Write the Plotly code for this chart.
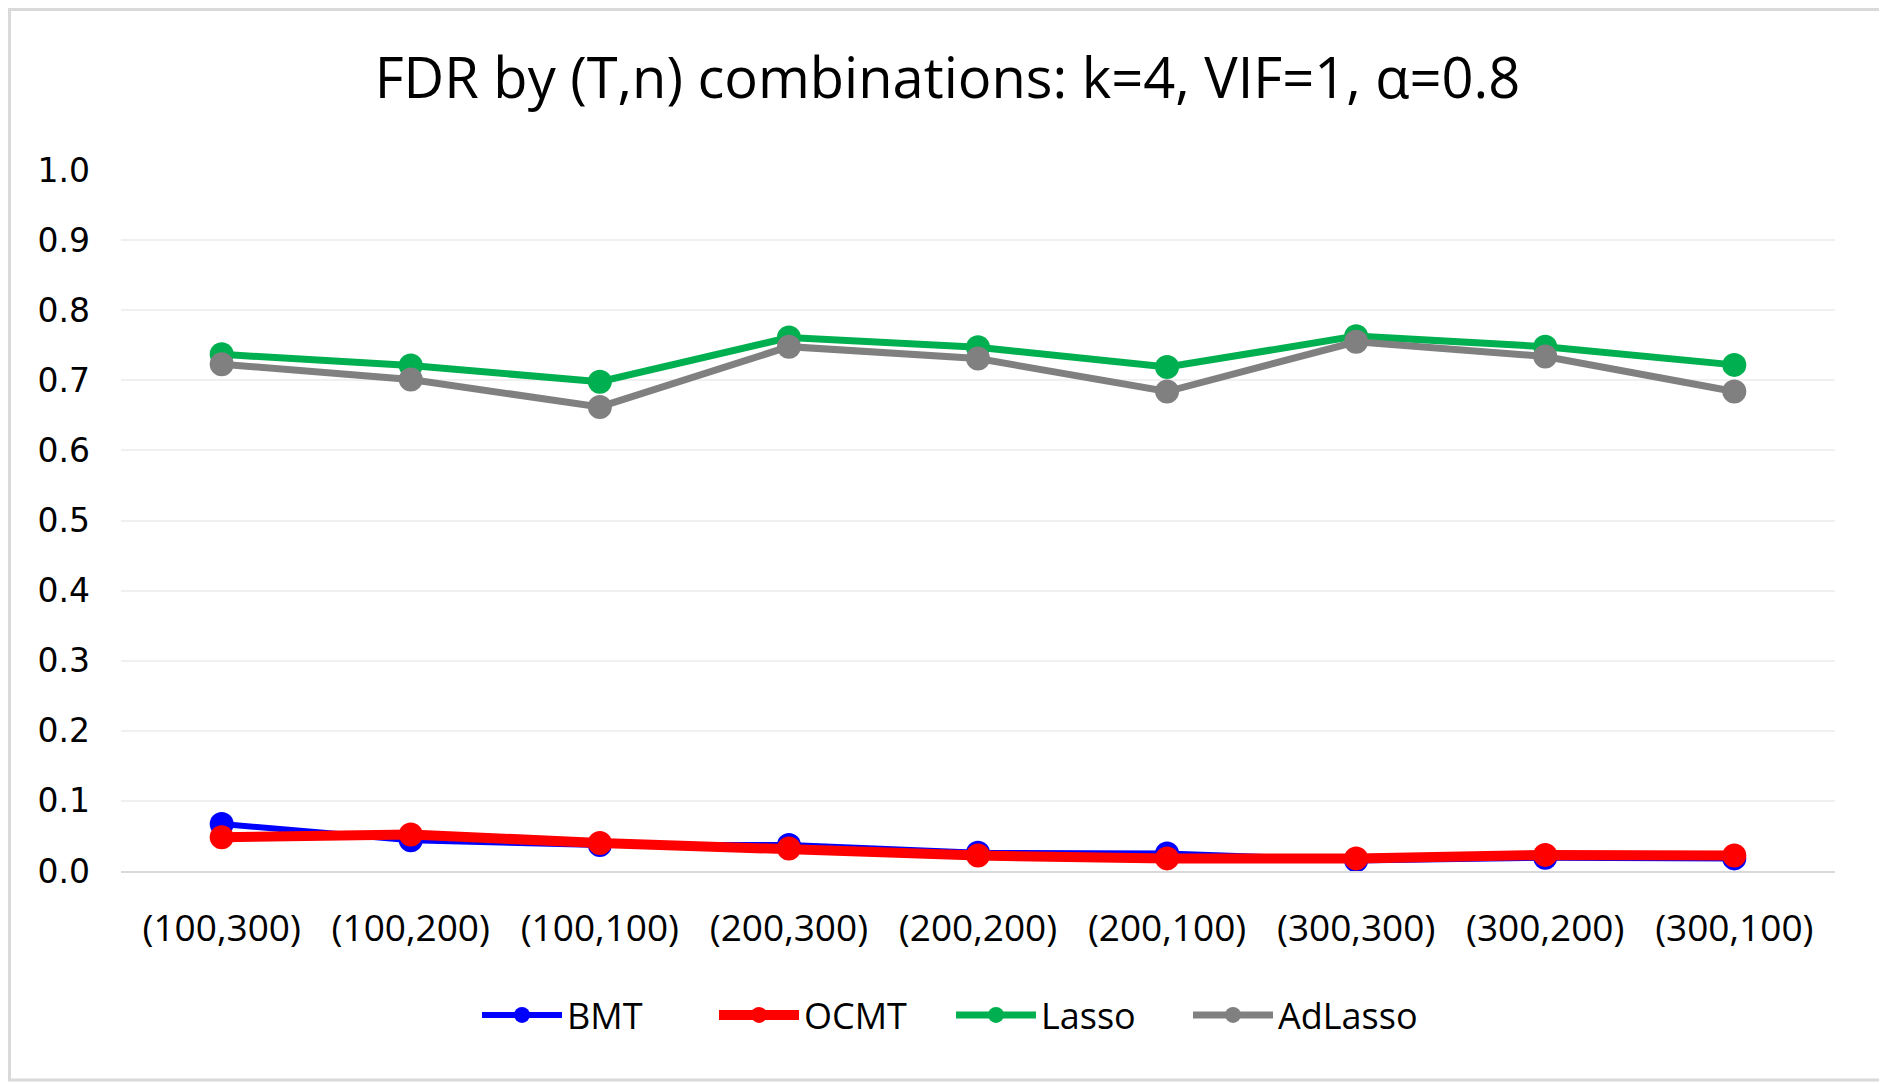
import plotly.graph_objects as go

categories = ["(100,300)", "(100,200)", "(100,100)", "(200,300)", "(200,200)",
              "(200,100)", "(300,300)", "(300,200)", "(300,100)"]
bmt = [0.067, 0.044, 0.037, 0.037, 0.026, 0.025, 0.015, 0.019, 0.018]
ocmt = [0.048, 0.052, 0.040, 0.032, 0.022, 0.018, 0.018, 0.023, 0.022]
lasso = [0.737, 0.721, 0.698, 0.761, 0.747, 0.719, 0.763, 0.748, 0.722]
adlasso = [0.723, 0.701, 0.662, 0.748, 0.731, 0.684, 0.755, 0.734, 0.684]
yticks = [0.0, 0.1, 0.2, 0.3, 0.4, 0.5, 0.6, 0.7, 0.8, 0.9, 1.0]

series = [
    ("BMT", bmt, "#0000FF", 6),
    ("OCMT", ocmt, "#FF0000", 10),
    ("Lasso", lasso, "#00B050", 7),
    ("AdLasso", adlasso, "#808080", 7),
]

fig = go.Figure()
for name, vals, col, lw in series:
    fig.add_trace(go.Scatter(
        x=categories, y=vals, name=name, mode="lines+markers",
        line=dict(color=col, width=lw),
        marker=dict(color=col, size=24),
    ))

# page body adds an 8px offset; compensate
W, H = 1879, 1076
L, R, T, B = 113, 52, 162, 213
pw, ph = W - L - R, H - T - B

fig.update_layout(
    width=W, height=H,
    margin=dict(l=L, r=R, t=T, b=B),
    paper_bgcolor="white", plot_bgcolor="white",
    title=dict(text="FDR by (T,n) combinations: k=4, VIF=1, α=0.8",
               x=0.5, xanchor="center", y=1 - 70 / H, yanchor="middle",
               font=dict(family="Open Sans", size=56, color="#000000")),
    showlegend=True,
    legend=dict(orientation="h", x=(943 - L) / pw, xanchor="center",
                y=(H - B - 1007) / ph, yanchor="middle",
                font=dict(family="Open Sans", size=36, color="#000000"),
                itemwidth=80, entrywidth=142, entrywidthmode="pixels",
                bgcolor="rgba(0,0,0,0)"),
    xaxis=dict(type="category", showgrid=False, showline=True,
               linecolor="#D9D9D9", linewidth=2, ticks="",
               tickfont=dict(family="Open Sans", size=37, color="#000000"),
               ticklabelstandoff=24, zeroline=False),
    yaxis=dict(range=[0, 1], tickvals=yticks,
               ticktext=[f"{v:.1f}" for v in yticks],
               showgrid=True, gridcolor="#F0F0F0", gridwidth=2,
               showline=False, zeroline=False, ticks="",
               tickfont=dict(family="DejaVu Sans", size=33, color="#000000"),
               ticklabelstandoff=30),
)

fig.add_shape(type="rect", xref="paper", yref="paper", layer="above",
              x0=-(L - 1.5) / pw, x1=(pw + R - 4) / pw,
              y0=-(B - 4) / ph, y1=(ph + T - 1.5) / ph,
              line=dict(color="#D9D9D9", width=3), fillcolor="rgba(0,0,0,0)")

fig.write_html("out.html")
